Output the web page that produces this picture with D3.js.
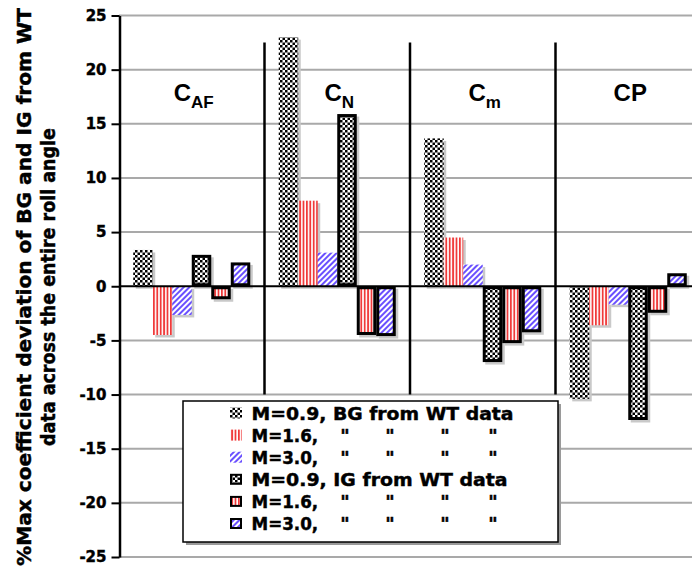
<!DOCTYPE html>
<html>
<head>
<meta charset="utf-8">
<script src="https://cdn.jsdelivr.net/npm/d3@7"></script>
<style>
  body { margin: 0; background: #fff; }
  svg { display: block; }
</style>
</head>
<body>
<svg id="chart" width="692" height="571"></svg>
<script>
// Coefficient groups
const groups = ["CAF", "CN", "Cm", "CP"];
const groupMain = ["C", "C", "C", "CP"];
const groupSub = ["AF", "N", "m", ""];

// Series: BG / IG deviation from WT data at three Mach numbers
const seriesKeys = ["bg09", "bg16", "bg30", "ig09", "ig16", "ig30"];
const seriesLabels = ["M=0.9, BG from WT data", "M=1.6,", "M=3.0,", "M=0.9, IG from WT data", "M=1.6,", "M=3.0,"];
const bg09 = [3.35, 23.0, 13.65, -10.4];
const bg16 = [-4.5, 7.9, 4.5, -3.6];
const bg30 = [-2.65, 3.1, 2.0, -1.7];
const ig09 = [2.9, 15.9, -7.0, -12.35];
const ig16 = [-1.2, -4.5, -5.25, -2.45];
const ig30 = [2.2, -4.6, -4.25, 1.2];
const seriesValues = [bg09, bg16, bg30, ig09, ig16, ig30];

// Axis ticks
const yTicks = [25, 20, 15, 10, 5, 0, -5, -10, -15, -20, -25];
const yTickLabels = ["25", "20", "15", "10", "5", "0", "-5", "-10", "-15", "-20", "-25"];
const separatorSpan = [22.5, -10];

const yTitle = ["%Max coefficient deviation of BG and IG from WT", "data across the entire roll angle"];

const svg = d3.select("#chart");
const W = 692;
const FONT = "'DejaVu Sans', Verdana, sans-serif";

const y = d3.scaleLinear().domain([-25, 25]).range([557, 15.5]);
const x = d3.scaleBand().domain(groups).range([119, 701]).paddingInner(0).paddingOuter(0);
const xs = d3.scaleBand().domain(seriesKeys).range([0, x.bandwidth()]).paddingInner(0).paddingOuter(0.73);

// Fill patterns
const defs = svg.append("defs");
const chk = defs.append("pattern").attr("id", "chk").attr("patternUnits", "userSpaceOnUse")
  .attr("width", 5).attr("height", 5);
chk.append("rect").attr("width", 5).attr("height", 5).attr("fill", "#fff");
chk.append("rect").attr("width", 2.5).attr("height", 2.5).attr("fill", "#000");
chk.append("rect").attr("x", 2.5).attr("y", 2.5).attr("width", 2.5).attr("height", 2.5).attr("fill", "#000");

const red = defs.append("pattern").attr("id", "red").attr("patternUnits", "userSpaceOnUse")
  .attr("width", 3.4).attr("height", 10);
red.append("rect").attr("width", 3.4).attr("height", 10).attr("fill", "#fff");
red.append("rect").attr("width", 1.8).attr("height", 10).attr("fill", "#f03a3a");

const blu = defs.append("pattern").attr("id", "blu").attr("patternUnits", "userSpaceOnUse")
  .attr("width", 4).attr("height", 4).attr("patternTransform", "rotate(45)");
blu.append("rect").attr("width", 4).attr("height", 4).attr("fill", "#fff");
blu.append("rect").attr("width", 2).attr("height", 4).attr("fill", "#6a50ff");

const fills = { bg09: "url(#chk)", bg16: "url(#red)", bg30: "url(#blu)", ig09: "url(#chk)", ig16: "url(#red)", ig30: "url(#blu)" };
const bordered = { bg09: false, bg16: false, bg30: false, ig09: true, ig16: true, ig30: true };

// Heavy bold text: bold face plus a thin outline
function heavy(sel, size) {
  return sel.style("font-family", FONT).style("font-weight", "bold").style("font-size", size + "px")
    .attr("fill", "#000").attr("stroke", "#000").attr("stroke-width", 0.45);
}

// Gridlines
svg.append("g").selectAll("line").data(yTicks.filter(d => d !== 0)).join("line")
  .attr("x1", x.range()[0]).attr("x2", W)
  .attr("y1", d => y(d)).attr("y2", d => y(d))
  .attr("stroke", "#a9a9a9").attr("stroke-width", 2);

// Bars
const rows = [];
groups.forEach((g, gi) => {
  seriesKeys.forEach((k, si) => rows.push({ g, k, v: seriesValues[si][gi] }));
});
const barG = svg.append("g");
const bx = d => x(d.g) + xs(d.k);
const by = d => y(Math.max(0, d.v));
const bh = d => Math.abs(y(d.v) - y(0));

barG.selectAll("rect.shadow").data(rows).join("rect").attr("class", "shadow")
  .attr("x", d => bx(d) + 2.5).attr("y", d => by(d) + 2.5)
  .attr("width", xs.bandwidth()).attr("height", d => bh(d))
  .attr("fill", "#c9c9c9");

barG.selectAll("rect.bar").data(rows).join("rect").attr("class", "bar")
  .attr("x", d => bx(d) + (bordered[d.k] ? 1.5 : 0))
  .attr("y", d => by(d) + (bordered[d.k] ? 1.5 : 0))
  .attr("width", d => xs.bandwidth() - (bordered[d.k] ? 3 : 0))
  .attr("height", d => Math.max(0, bh(d) - (bordered[d.k] ? 3 : 0)))
  .attr("fill", d => fills[d.k])
  .attr("stroke", d => bordered[d.k] ? "#000" : "none")
  .attr("stroke-width", 3);

// Zero line
svg.append("line").attr("x1", x.range()[0]).attr("x2", W)
  .attr("y1", y(0)).attr("y2", y(0)).attr("stroke", "#000").attr("stroke-width", 2);

// Group separators
svg.append("g").selectAll("line").data(groups.slice(1)).join("line")
  .attr("x1", d => x(d)).attr("x2", d => x(d))
  .attr("y1", y(separatorSpan[0])).attr("y2", y(separatorSpan[1]))
  .attr("stroke", "#000").attr("stroke-width", 2.5);

// Group labels
const gl = svg.append("g").selectAll("text").data(groups).join("text")
  .attr("x", d => x(d) + x.bandwidth() / 2 + 2)
  .attr("y", 101)
  .attr("text-anchor", "middle")
  .attr("font-family", "'Liberation Sans', Arial, sans-serif")
  .attr("font-weight", "bold")
  .attr("font-size", 24)
  .attr("fill", "#000");
gl.append("tspan").text((d, i) => groupMain[i]);
gl.append("tspan").attr("dy", 7).attr("font-size", 17).text((d, i) => groupSub[i]);

// Y axis
const axis = d3.axisLeft(y).tickValues(yTicks).tickFormat((d, i) => yTickLabels[i])
  .tickSize(8).tickSizeOuter(0).tickPadding(5);
const ag = svg.append("g").attr("transform", `translate(${x.range()[0] + 0.5},0)`).call(axis);
ag.select(".domain").attr("stroke", "#000").attr("stroke-width", 2.5);
ag.selectAll(".tick line").attr("stroke", "#000").attr("stroke-width", 2);
heavy(ag.selectAll(".tick text"), 15);

// Y axis title (two lines)
const titleLen = [558, 318];
const titleX = [31, 55];
yTitle.forEach((t, i) => {
  heavy(svg.append("text")
    .attr("transform", `translate(${titleX[i]},287) rotate(-90)`)
    .attr("x", -titleLen[i] / 2)
    .attr("textLength", titleLen[i])
    .attr("lengthAdjust", "spacingAndGlyphs"), 19.5)
    .text(t);
});

// Legend
const lg = svg.append("g");
const L = { x: 183, y: 401, w: 375, h: 141 };
lg.append("rect").attr("x", L.x + 3).attr("y", L.y + 3).attr("width", L.w).attr("height", L.h).attr("fill", "#9a9a9a");
lg.append("rect").attr("x", L.x).attr("y", L.y).attr("width", L.w).attr("height", L.h)
  .attr("fill", "#fff").attr("stroke", "#000").attr("stroke-width", 1.5);

const rowY = i => 419.5 + i * 22.1;
const labelLen = [262, 66.7, 66.7, 256, 66.7, 66.7];
const dittoX = [345, 390, 445, 493];
seriesKeys.forEach((k, i) => {
  const b = bordered[k];
  lg.append("rect")
    .attr("x", 230 + (b ? 1 : 0)).attr("y", rowY(i) - 12 + (b ? 1 : 0))
    .attr("width", 12 - (b ? 2 : 0)).attr("height", 11 - (b ? 2 : 0))
    .attr("fill", fills[k])
    .attr("stroke", b ? "#000" : "none").attr("stroke-width", 2);
  heavy(lg.append("text")
    .attr("x", 251.5).attr("y", rowY(i))
    .attr("textLength", labelLen[i]).attr("lengthAdjust", "spacingAndGlyphs"), 17.5)
    .text(seriesLabels[i]);
  if (i !== 0 && i !== 3) {
    dittoX.forEach(dx => {
      heavy(lg.append("text").attr("x", dx).attr("y", rowY(i))
        .attr("text-anchor", "middle"), 18)
        .text('"');
    });
  }
});
</script>
</body>
</html>
